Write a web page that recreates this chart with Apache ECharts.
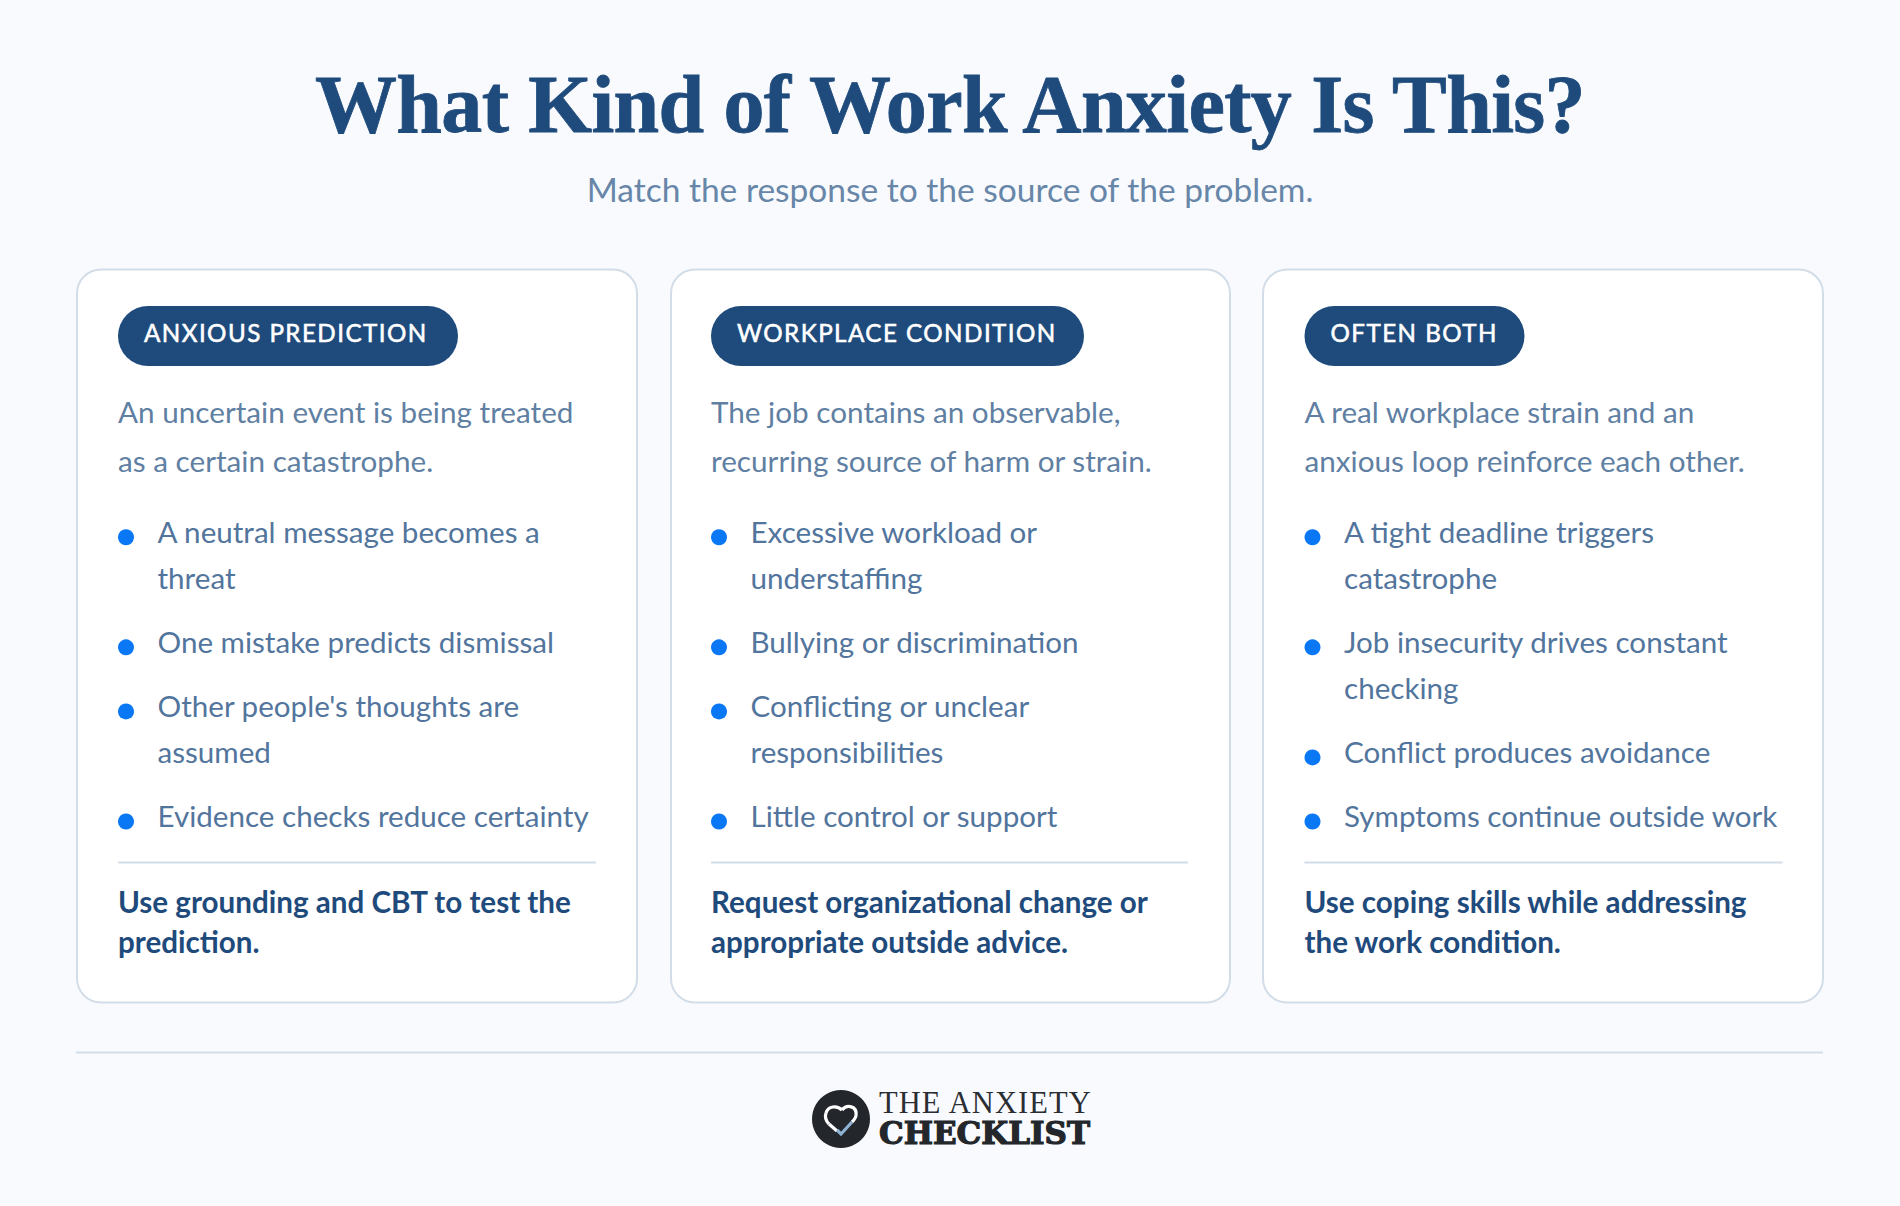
<!DOCTYPE html>
<html><head><meta charset="utf-8">
<style>
html,body{margin:0;padding:0;background:#f8fafe}
#main{width:1900px;height:1206px}
#main text[style*="24.2px"]{letter-spacing:1.45px}
#main text[style*="30.5px"]{letter-spacing:1.1px}
#main text[style*="82px"]{letter-spacing:-0.62px}
</style>
<script src="https://cdn.jsdelivr.net/npm/echarts@6/dist/echarts.min.js"></script>
</head><body><div id="main"></div>
<script>
const titleText = "What Kind of Work Anxiety Is This?";
const subtitleText = "Match the response to the source of the problem.";
const labels = ["ANXIOUS PREDICTION", "WORKPLACE CONDITION", "OFTEN BOTH"];
const intros = [
  ["An uncertain event is being treated", "as a certain catastrophe."],
  ["The job contains an observable,", "recurring source of harm or strain."],
  ["A real workplace strain and an", "anxious loop reinforce each other."]
];
const bullets = [
  [["A neutral message becomes a", "threat"], ["One mistake predicts dismissal"], ["Other people's thoughts are", "assumed"], ["Evidence checks reduce certainty"]],
  [["Excessive workload or", "understaffing"], ["Bullying or discrimination"], ["Conflicting or unclear", "responsibilities"], ["Little control or support"]],
  [["A tight deadline triggers", "catastrophe"], ["Job insecurity drives constant", "checking"], ["Conflict produces avoidance"], ["Symptoms continue outside work"]]
];
const actions = [
  ["Use grounding and CBT to test the", "prediction."],
  ["Request organizational change or", "appropriate outside advice."],
  ["Use coping skills while addressing", "the work condition."]
];
const logoLines = ["THE ANXIETY", "CHECKLIST"];

const cardX = [77, 671, 1263], cardW = [560, 559, 560], textX = [118, 711, 1304.5], pillW = [340, 373, 220], ruleW = [478, 477, 478];
const ASCENT = {"Lato":0.915, "Liberation Serif":0.84, "DejaVu Serif":0.93};
const g = [];
function txt(text, x, y, size, fill, weight, family, align, extra) {
  family = family || "Lato";
  g.push({type:'text', silent:true, style:Object.assign({text, x, y:y-ASCENT[family]*size, fill, fontSize:size, fontWeight:weight||'normal',
    fontFamily:family, textAlign:align||'left', textVerticalAlign:'top'}, extra||{})});
}
function box(x,y,w,h,r,fill,stroke,lw){
  g.push({type:'rect', silent:true, shape:{x,y,width:w,height:h,r}, style:{fill,stroke:stroke||null,lineWidth:lw||0}});
}
function line(x1,x2,y){
  g.push({type:'line', silent:true, shape:{x1,y1:y,x2,y2:y}, style:{stroke:'#d3dde8',lineWidth:2}});
}
function curve(x1,y1,cpx1,cpy1,cpx2,cpy2,x2,y2){
  g.push({type:'bezierCurve', silent:true, shape:{x1,y1,cpx1,cpy1,cpx2,cpy2,x2,y2}, style:{fill:null,stroke:'#ffffff',lineWidth:3.2}});
}
txt(titleText, 950, 132, 82, '#1f4b7c', 'bold', 'Liberation Serif', 'center', {stroke:'#1f4b7c', lineWidth:0.8});
txt(subtitleText, 950, 203, 33.5, '#6786a8', 'normal', 'Lato', 'center');
labels.forEach((lab,i)=>{
  const L = textX[i];
  box(cardX[i],269.5,cardW[i],733,24,'#ffffff','#d3dde8',2);
  box(L,306,pillW[i],60,30,'#1f4b7c');
  txt(lab, L+26, 343, 24.2, '#ffffff', 'normal', 'Lato', 'left', {stroke:'#ffffff', lineWidth:0.55});
  intros[i].forEach((t,k)=>txt(t, L, 424+k*48.2, 29.7, '#5f7fa3'));
  let y = 543.8;
  bullets[i].forEach(lines=>{
    g.push({type:'circle', silent:true, shape:{cx:L+8,cy:y-6.5,r:8}, style:{fill:'#0a78f5'}});
    lines.forEach(t=>{ txt(t, L+39.5, y, 29.6, '#52759d'); y+=46; });
    y += 18.07;
  });
  line(L, L+ruleW[i], 862.5);
  actions[i].forEach((t,k)=>txt(t, L, 914+k*40, 29.6, '#1f4b7c', 'bold'));
});
line(76,1823,1052.5);
// logo
g.push({type:'circle', silent:true, shape:{cx:841,cy:1119,r:29}, style:{fill:'#23272b'}});
curve(842,1110, 847,1104, 857,1106, 856,1115);
curve(856,1115, 856,1118, 854,1120, 852,1122);
curve(842,1110, 837,1105, 828,1106, 826,1113);
curve(826,1113, 825,1116, 825,1120, 829,1124);
g.push({type:'line', silent:true, shape:{x1:829,y1:1124,x2:837,y2:1131}, style:{stroke:'#ffffff',lineWidth:3.2}});
g.push({type:'polyline', silent:true, shape:{points:[[837,1130],[841,1134],[852,1122]]}, style:{fill:null,stroke:'#8db2d3',lineWidth:3.2}});
txt(logoLines[0], 879, 1113, 30.5, '#2a2e32', 'normal', 'Liberation Serif');
txt(logoLines[1], 879, 1146, 31, '#23272b', 'bold', 'DejaVu Serif', 'left', {stroke:'#23272b', lineWidth:1.2});

const chart = echarts.init(document.getElementById('main'), null, {renderer:'svg', width:1900, height:1206});
chart.setOption({backgroundColor:'#f8fafe', animation:false, graphic:{elements:g}});
</script></body></html>
